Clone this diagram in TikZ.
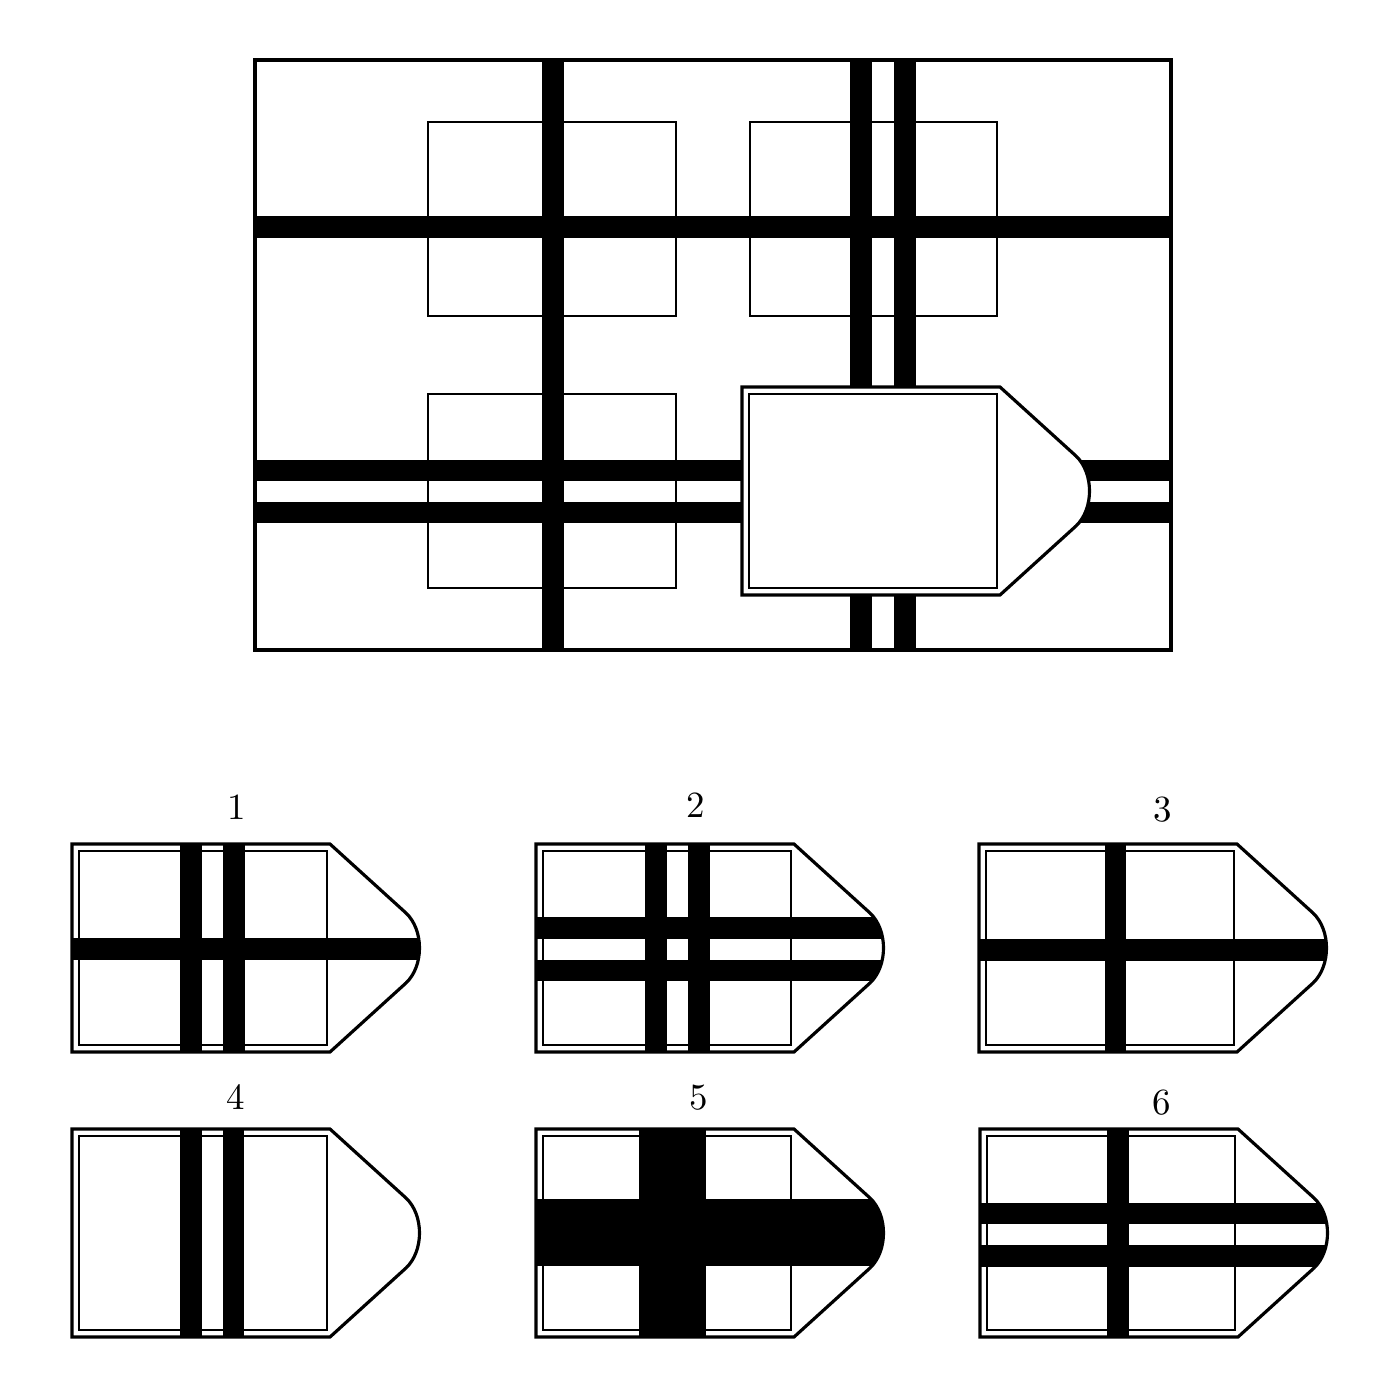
\documentclass[tikz,border=0pt]{standalone}
\newcommand{\pieceshape}{(0,0) -- (258,0) -- (334,69) .. controls (352,86) and (352,122) .. (334,139) -- (258,208) -- (0,208) -- cycle}
\tikzset{
  frame/.style={line width=0.9pt},
  hair/.style={line width=0.3pt},
  band/.style={fill=black},
  numlabel/.style={font=\fontsize{10.5}{12}\selectfont, inner sep=0pt}
}
\begin{document}
\begin{tikzpicture}[x=0.01cm, y=-0.01cm]
\useasboundingbox (0,0) rectangle (1400,1400);

% big picture
\draw[hair] (428,122) rectangle (676,316);
\draw[hair] (750,122) rectangle (997,316);
\draw[hair] (428,394) rectangle (676,588);

\fill[band] (542,60) rectangle (564,650);
\fill[band] (850,60) rectangle (872,650);
\fill[band] (894,60) rectangle (916,650);
\fill[band] (255,216) rectangle (1171,238);
\fill[band] (255,460) rectangle (1171,481);
\fill[band] (255,502) rectangle (1171,523);
\draw[frame] (255,60) rectangle (1171,650);

\begin{scope}[shift={(742,387)}]
\fill[white] \pieceshape;
\draw[hair] (7,7) rectangle (255,201);
\draw[frame] \pieceshape;
\end{scope}

% option 1
\node[numlabel] (lab1) at (237,807) {1};
\begin{scope}[shift={(72,844)}]
\draw[hair] (7,7) rectangle (255,201);
\begin{scope}
\clip \pieceshape;
\fill[band] (108,0) rectangle (130,208);
\fill[band] (151,0) rectangle (173,208);
\fill[band] (0,94) rectangle (360,116);
\end{scope}
\draw[frame] \pieceshape;
\end{scope}

% option 2
\node[numlabel] (lab2) at (696,805) {2};
\begin{scope}[shift={(536,844)}]
\draw[hair] (7,7) rectangle (255,201);
\begin{scope}
\clip \pieceshape;
\fill[band] (109,0) rectangle (131,208);
\fill[band] (152,0) rectangle (174,208);
\fill[band] (0,73) rectangle (360,95);
\fill[band] (0,116) rectangle (360,137);
\end{scope}
\draw[frame] \pieceshape;
\end{scope}

% option 3
\node[numlabel] (lab3) at (1163,810) {3};
\begin{scope}[shift={(979,844)}]
\draw[hair] (7,7) rectangle (255,201);
\begin{scope}
\clip \pieceshape;
\fill[band] (126,0) rectangle (147,208);
\fill[band] (0,95) rectangle (360,117);
\end{scope}
\draw[frame] \pieceshape;
\end{scope}

% option 4
\node[numlabel] (lab4) at (236,1097) {4};
\begin{scope}[shift={(72,1129)}]
\draw[hair] (7,7) rectangle (255,201);
\begin{scope}
\clip \pieceshape;
\fill[band] (108,0) rectangle (130,208);
\fill[band] (151,0) rectangle (172,208);
\end{scope}
\draw[frame] \pieceshape;
\end{scope}

% option 5
\node[numlabel] (lab5) at (699,1098) {5};
\begin{scope}[shift={(536,1129)}]
\draw[hair] (7,7) rectangle (255,201);
\begin{scope}
\clip \pieceshape;
\fill[band] (103,0) rectangle (170,208);
\fill[band] (0,70) rectangle (360,137);
\end{scope}
\draw[frame] \pieceshape;
\end{scope}

% option 6
\node[numlabel] (lab6) at (1162,1103) {6};
\begin{scope}[shift={(980,1129)}]
\draw[hair] (7,7) rectangle (255,201);
\begin{scope}
\clip \pieceshape;
\fill[band] (127,0) rectangle (149,208);
\fill[band] (0,74) rectangle (360,95);
\fill[band] (0,116) rectangle (360,138);
\end{scope}
\draw[frame] \pieceshape;
\end{scope}

\end{tikzpicture}
\end{document}
